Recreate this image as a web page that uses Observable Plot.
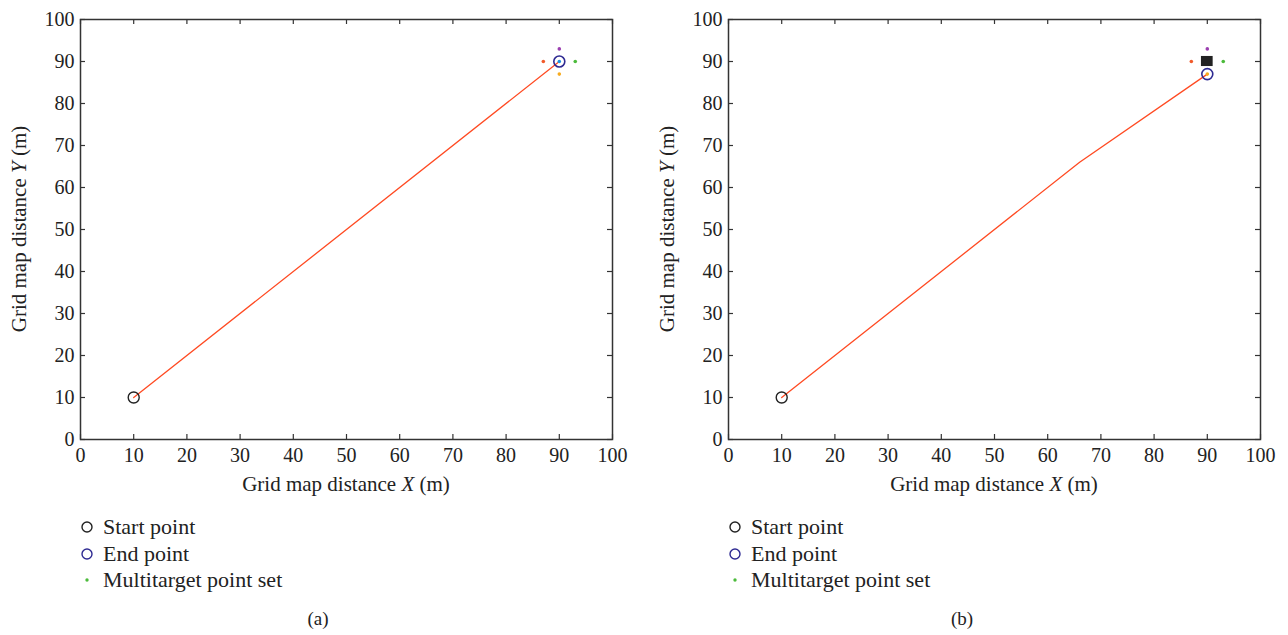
<!DOCTYPE html>
<html>
<head>
<meta charset="utf-8">
<script src="https://cdn.jsdelivr.net/npm/d3@7"></script>
<script src="https://cdn.jsdelivr.net/npm/@observablehq/plot@0.6"></script>
<style>
  body { margin: 0; background: #fff; }
  #root { position: relative; width: 1288px; height: 635px; font-family: "Liberation Serif", "Times New Roman", serif; color: #222; }
  .panel { position: absolute; top: 0; width: 644px; height: 635px; }
  .panel svg.plot { position: absolute; left: 0; top: 0; }
  .legend { position: absolute; top: 514px; font-size: 22px; line-height: 26.5px; font-family: "Liberation Serif", serif; }
  .legend .row { display: flex; align-items: center; white-space: nowrap; }
  .legend svg { width: 16px; height: 16px; margin-right: 8px; }
  .caption { position: absolute; top: 608px; width: 636px; text-align: center; font-size: 19px; font-family: "Liberation Serif", serif; }
</style>
</head>
<body>
<div id="root"></div>
<script>
// ---- data ----
const axisTicks = [0, 10, 20, 30, 40, 50, 60, 70, 80, 90, 100];

const startX = [10], startY = [10];

const pathAX = [10, 90], pathAY = [10, 90];
const endAX = [90], endAY = [90];

const pathBX = [10, 66, 90], pathBY = [10, 66, 87];
const endBX = [90], endBY = [87];

const targetX = [87, 90, 93, 90, 90];
const targetY = [90, 93, 90, 87, 90];
const targetColor = ["#f15a2b", "#9b3fb0", "#4cbb3c", "#f7ab1f", "#1d8fe0"];

const obstacleX1 = [88.9], obstacleX2 = [91.1], obstacleY1 = [88.8], obstacleY2 = [91.2];

const legendLabels = ["Start point", "End point", "Multitarget point set"];
const captions = ["(a)", "(b)"];

// ---- drawing ----
const root = document.getElementById("root");
const FONT = "'Liberation Serif', 'Times New Roman', serif";

function makePanel(opts) {
  const { left, ml, mr, pathX, pathY, endX, endY, obstacle, caption } = opts;
  const W = 644, H = 500, mt = 19, mb = 61;
  const fw = W - ml - mr, fh = H - mt - mb;
  const path = pathX.map((x, i) => ({ x, y: pathY[i] }));
  const targets = targetX.map((x, i) => ({ x, y: targetY[i], c: targetColor[i] }));
  const marks = [
    Plot.axisX(axisTicks, { tickSize: 0, tickPadding: 8, fontSize: 20, label: null }),
    Plot.axisY(axisTicks, { tickSize: 0, tickPadding: 6, fontSize: 20, label: null }),
    Plot.tickX(axisTicks, { x: d => d, insetTop: fh - 5, stroke: "#333", strokeWidth: 1.2 }),
    Plot.tickX(axisTicks, { x: d => d, insetBottom: fh - 5, stroke: "#333", strokeWidth: 1.2 }),
    Plot.tickY(axisTicks, { y: d => d, insetRight: fw - 5, stroke: "#333", strokeWidth: 1.2 }),
    Plot.tickY(axisTicks, { y: d => d, insetLeft: fw - 5, stroke: "#333", strokeWidth: 1.2 }),
    Plot.line(path, { x: "x", y: "y", stroke: "#ff4a22", strokeWidth: 1.3 }),
    Plot.dot(targets, { x: "x", y: "y", fill: "c", r: 1.8 }),
  ];
  if (obstacle) {
    const obs = obstacleX1.map((x1, i) => ({ x1, x2: obstacleX2[i], y1: obstacleY1[i], y2: obstacleY2[i] }));
    marks.push(Plot.rect(obs, { x1: "x1", x2: "x2", y1: "y1", y2: "y2", fill: "#222" }));
  }
  marks.push(
    Plot.dot(startX.map((x, i) => ({ x, y: startY[i] })), { x: "x", y: "y", r: 5.5, stroke: "#222", strokeWidth: 1.4, fill: "none" }),
    Plot.dot(endX.map((x, i) => ({ x, y: endY[i] })), { x: "x", y: "y", r: 5.5, stroke: "#2e2a92", strokeWidth: 1.6, fill: "none" }),
    Plot.frame({ stroke: "#333", strokeWidth: 1.5 })
  );
  const svg = Plot.plot({
    width: W, height: H,
    marginTop: mt, marginBottom: mb, marginLeft: ml, marginRight: mr,
    x: { domain: [0, 100], ticks: axisTicks },
    y: { domain: [0, 100], ticks: axisTicks },
    color: { type: "identity" },
    style: { fontFamily: FONT, color: "#222", background: "white", overflow: "visible" },
    marks
  });
  svg.classList.add("plot");
  const s = d3.select(svg);
  const xl = s.append("text")
    .attr("x", ml + fw / 2).attr("y", H - 9)
    .attr("text-anchor", "middle").attr("font-size", 21).style("font-family", FONT).attr("fill", "#222");
  xl.append("tspan").text("Grid map distance ");
  xl.append("tspan").attr("font-style", "italic").text("X");
  xl.append("tspan").text(" (m)");
  const yl = s.append("text")
    .attr("transform", `translate(${ml - 54},${mt + fh / 2}) rotate(-90)`)
    .attr("text-anchor", "middle").attr("font-size", 21).style("font-family", FONT).attr("fill", "#222");
  yl.append("tspan").text("Grid map distance ");
  yl.append("tspan").attr("font-style", "italic").text("Y");
  yl.append("tspan").text(" (m)");

  const panel = document.createElement("div");
  panel.className = "panel";
  panel.style.left = left + "px";
  panel.appendChild(svg);

  const legend = document.createElement("div");
  legend.className = "legend";
  legend.style.left = (ml - 1) + "px";
  const symbols = [
    '<circle cx="8" cy="8" r="5" fill="none" stroke="#222" stroke-width="1.4"/>',
    '<circle cx="8" cy="8" r="5" fill="none" stroke="#2e2a92" stroke-width="1.4"/>',
    '<circle cx="8" cy="8" r="1.7" fill="#4cbb3c"/>'
  ];
  legendLabels.forEach((lab, i) => {
    const row = document.createElement("div");
    row.className = "row";
    row.innerHTML = `<svg viewBox="0 0 16 16">${symbols[i]}</svg><span>${lab}</span>`;
    legend.appendChild(row);
  });
  panel.appendChild(legend);

  const cap = document.createElement("div");
  cap.className = "caption";
  cap.textContent = caption;
  panel.appendChild(cap);
  root.appendChild(panel);
}

makePanel({ left: 0, ml: 80, mr: 32, pathX: pathAX, pathY: pathAY, endX: endAX, endY: endAY, obstacle: false, caption: captions[0] });
makePanel({ left: 644, ml: 84, mr: 28, pathX: pathBX, pathY: pathBY, endX: endBX, endY: endBY, obstacle: true, caption: captions[1] });
</script>
</body>
</html>
